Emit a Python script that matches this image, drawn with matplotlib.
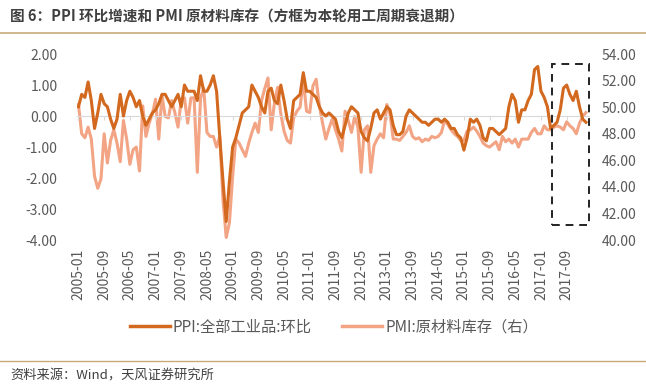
import matplotlib
matplotlib.use('Agg')
import matplotlib.pyplot as plt
import pandas as pd
from matplotlib.patches import Rectangle
from matplotlib.lines import Line2D

plt.rcParams['font.family'] = ['Noto Sans CJK SC', 'DejaVu Sans']

# monthly data 2005-01 .. 2018-03
months = pd.date_range('2005-01-01', '2018-03-01', freq='MS').strftime('%Y-%m').tolist()

ppi_mom = [
    0.3, 0.7, 0.6, 1.1, 0.5, -0.4, 0.1, 0.7, 0.4, 0.3, -0.1, -0.4,      # 2005
    -0.1, 0.7, 0.0, 0.5, 0.8, 0.6, 0.3, 0.5, 0.0, -0.3, -0.1, 0.1,      # 2006
    0.2, 0.4, 0.7, 0.7, 0.5, 0.3, 0.5, 0.7, 0.3, 1.0, 0.8, 0.8,         # 2007
    0.8, 0.5, 1.3, 0.8, 0.8, 1.0, 1.3, 0.8, -0.7, -2.1, -3.4, -2.1,     # 2008
    -1.0, -0.7, -0.3, 0.1, 0.2, 0.3, 1.0, 0.8, 0.6, 0.3, 0.1, 0.8,      # 2009
    0.9, 0.5, 0.4, 1.0, 0.5, -0.1, -0.4, 0.5, 0.6, 0.7, 1.4, 0.8,       # 2010
    0.8, 0.7, 0.6, 0.3, 0.1, 0.0, 0.1, 0.0, -0.1, -0.5, -0.7, -0.3,     # 2011
    0.1, 0.3, 0.2, 0.1, -0.5, -0.7, -0.8, -0.4, 0.1, 0.2, -0.1, 0.1,    # 2012
    0.3, 0.2, -0.3, -0.6, -0.6, -0.5, 0.0, 0.2, 0.1, 0.0, -0.1, -0.2,   # 2013
    -0.2, -0.3, -0.2, -0.1, -0.1, -0.2, -0.1, -0.2, -0.4, -0.4, -0.6, -0.7,  # 2014
    -1.1, -0.7, -0.1, -0.2, -0.1, -0.3, -0.7, -0.8, -0.4, -0.4, -0.5, -0.6,  # 2015
    -0.5, -0.4, 0.3, 0.7, 0.5, -0.2, 0.2, 0.2, 0.5, 0.7, 1.5, 1.6,      # 2016
    0.8, 0.6, 0.3, -0.4, -0.3, -0.2, 0.2, 0.9, 1.0, 0.7, 0.5, 0.8,      # 2017
    0.3, -0.1, -0.2,                                                    # 2018
]

pmi_inv = [
    50.2, 48.0, 47.7, 48.5, 47.6, 44.8, 43.9, 44.6, 48.0, 45.8, 47.5, 48.3,  # 2005
    47.3, 45.9, 49.0, 47.6, 45.7, 46.8, 47.0, 45.2, 50.1, 47.8, 48.8, 49.5,  # 2006
    50.6, 47.6, 50.9, 49.3, 49.2, 50.5, 49.6, 48.5, 50.6, 50.7, 48.8, 50.7,  # 2007
    50.7, 45.1, 50.7, 51.4, 48.1, 47.8, 47.8, 47.0, 47.8, 43.0, 40.2, 41.3,  # 2008
    44.8, 47.6, 47.3, 46.8, 46.3, 47.3, 48.1, 48.8, 48.1, 50.5, 51.4, 52.2,  # 2009
    48.3, 50.3, 51.5, 49.5, 48.2, 47.5, 47.3, 49.2, 49.7, 50.0, 52.1, 49.7,  # 2010
    49.6, 51.6, 52.1, 50.1, 48.8, 47.6, 48.4, 49.1, 48.3, 47.6, 46.7, 49.7,  # 2011
    49.0, 48.1, 49.3, 48.5, 45.1, 48.3, 48.6, 45.1, 47.1, 47.6, 48.0, 47.7,  # 2012
    50.2, 49.5, 47.6, 47.6, 47.5, 47.8, 48.1, 48.6, 47.8, 47.6, 47.7, 47.4,  # 2013
    47.6, 47.5, 47.8, 47.7, 47.8, 48.1, 49.0, 48.7, 48.3, 48.0, 47.8, 47.5,  # 2014
    47.5, 48.2, 48.3, 48.5, 48.2, 47.8, 47.3, 47.1, 47.0, 47.2, 47.4, 46.8,  # 2015
    47.8, 47.4, 47.6, 47.3, 47.6, 47.0, 47.6, 47.6, 47.6, 48.1, 48.4, 48.0,  # 2016
    48.0, 48.6, 48.3, 48.3, 48.5, 48.6, 48.5, 48.3, 48.9, 48.6, 48.4, 48.0,  # 2017
    48.8, 49.3, 49.6,                                                        # 2018
]

tick_labels = months[::8]
left_ticks = [-4, -3, -2, -1, 0, 1, 2]
right_ticks = [40, 42, 44, 46, 48, 50, 52, 54]
# shaded period: 2017-04 .. end
box_start, box_end = 147.5, 158.8

c_ppi = '#d2691e'
c_pmi = '#f2a484'
txt = '#595959'

fig = plt.figure(figsize=(6.46, 3.86), dpi=100)
ax1 = fig.add_axes([0.119, 0.378, 0.793, 0.482])
ax2 = ax1.twinx()

x = list(range(len(months)))
ax2.plot(x, pmi_inv, color=c_pmi, lw=2.2, zorder=2)
ax1.plot(x, ppi_mom, color=c_ppi, lw=2.2, zorder=3)
ax1.set_zorder(ax2.get_zorder() + 1)
ax1.patch.set_visible(False)

ax1.set_xlim(-0.5, 159)
ax1.set_ylim(-4, 2)
ax2.set_ylim(40, 54)
ax1.set_yticks(left_ticks)
ax1.set_yticklabels([f'{v:.2f}' for v in left_ticks])
ax2.set_yticks(right_ticks)
ax2.set_yticklabels([f'{v:.2f}' for v in right_ticks])
ax1.tick_params(axis='y', length=0, pad=14, labelsize=10, labelcolor=txt)
ax2.tick_params(axis='y', length=0, pad=9, labelsize=10, labelcolor=txt)

for a in (ax1, ax2):
    for s in ['top', 'left', 'right']:
        a.spines[s].set_visible(False)
ax2.spines['bottom'].set_visible(False)

# zero line with small ticks
ax1.spines['bottom'].set_position(('data', 0))
ax1.spines['bottom'].set_color('#d9d9d9')
ax1.set_xticks(x[::8])
ax1.set_xticklabels([])
ax1.tick_params(axis='x', direction='out', length=3, color='#d9d9d9')

# date labels at the bottom
sec = ax1.secondary_xaxis('bottom')
sec.set_xticks(x[::8])
sec.set_xticklabels(tick_labels, rotation=90)
sec.tick_params(length=0, pad=6, labelsize=10, labelcolor=txt)
sec.spines['bottom'].set_visible(False)

ax1.add_patch(Rectangle((box_start, -3.52), box_end - box_start, 1.68 + 3.52,
                        fill=False, ls=(0, (4, 3)), lw=1.4, ec='#222222', zorder=5,
                        clip_on=False))

handles = [Line2D([], [], color=c_ppi, lw=2.5), Line2D([], [], color=c_pmi, lw=2.5)]
fig.legend(handles, ['PPI:全部工业品:环比', 'PMI:原材料库存（右）'], loc='center',
           bbox_to_anchor=(334 / 646, 1 - 327 / 386), ncol=2, frameon=False,
           fontsize=11, handlelength=2.6, handletextpad=0.2, columnspacing=2.0,
           labelcolor=txt)

fig.text(10 / 646, 1 - 17 / 386, '图 6：PPI 环比增速和 PMI 原材料库存（方框为本轮用工周期衰退期）',
         fontsize=10.5, fontweight='bold', color='#404040', va='center', ha='left')
fig.add_artist(Line2D([0, 1], [1 - 33 / 386, 1 - 33 / 386], color='#c8aa78', lw=1.2))
fig.add_artist(Line2D([0, 1], [1 - 361 / 386, 1 - 361 / 386], color='#c8aa78', lw=1.0))
fig.text(10 / 646, 1 - 376 / 386, '资料来源：Wind，天风证券研究所',
         fontsize=9.5, color='#404040', va='center', ha='left')

fig.savefig('out.png', dpi=100)
